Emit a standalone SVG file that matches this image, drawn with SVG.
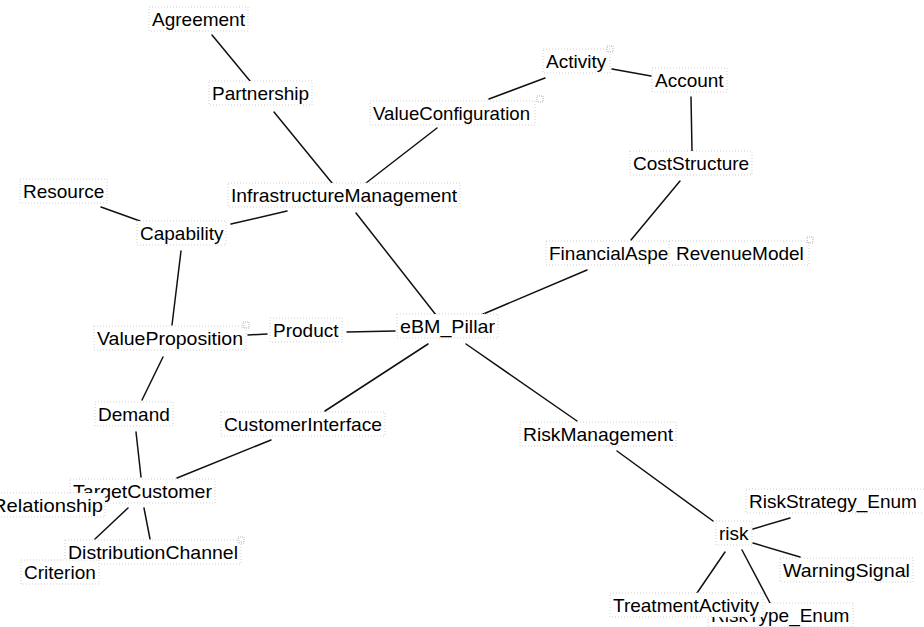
<svg xmlns="http://www.w3.org/2000/svg" width="924" height="627" viewBox="0 0 924 627">
<style>
  text { font-family: "Liberation Sans", Arial, sans-serif; font-size: 19px; fill: #000; }
  .box { fill: #fff; stroke: #cfcfcf; stroke-width: 1; stroke-dasharray: 1 2; }
  .mk { fill: none; stroke: #b5b5b5; stroke-width: 1; stroke-dasharray: 1 1; }
  #edges line { stroke: #111; stroke-width: 1.5; stroke-linecap: round; }
</style>
<rect width="924" height="627" fill="#fff"/>
<g id="edges">
  <line x1="212" y1="35" x2="250" y2="81"/>
  <line x1="274" y1="112" x2="332" y2="183"/>
  <line x1="437" y1="128" x2="366" y2="183"/>
  <line x1="101" y1="207" x2="140" y2="221"/>
  <line x1="231" y1="224" x2="287" y2="211"/>
  <line x1="356" y1="213" x2="436" y2="315"/>
  <line x1="181" y1="251" x2="172" y2="325"/>
  <line x1="489" y1="99" x2="545" y2="78"/>
  <line x1="612" y1="69" x2="651" y2="76"/>
  <line x1="691" y1="97" x2="692" y2="151"/>
  <line x1="680" y1="181" x2="631" y2="240"/>
  <line x1="587" y1="270" x2="481" y2="315"/>
  <line x1="248" y1="335" x2="267" y2="334"/>
  <line x1="347" y1="332" x2="395" y2="331"/>
  <line x1="163" y1="357" x2="142" y2="400"/>
  <line x1="428" y1="344" x2="325" y2="411"/>
  <line x1="136" y1="432" x2="141" y2="477"/>
  <line x1="271" y1="440" x2="177" y2="478"/>
  <line x1="128" y1="508" x2="95" y2="539"/>
  <line x1="144" y1="508" x2="150" y2="539"/>
  <line x1="466" y1="344" x2="577" y2="421"/>
  <line x1="617" y1="451" x2="713" y2="521"/>
  <line x1="753" y1="529" x2="790" y2="518"/>
  <line x1="753" y1="543" x2="800" y2="557"/>
  <line x1="725" y1="552" x2="697" y2="593"/>
  <line x1="742" y1="550" x2="770" y2="603"/>
</g>
<g id="Agreement"><rect class="box" x="149" y="7" width="99" height="24"/><text x="152" y="26">Agreement</text></g>
<g id="Partnership"><rect class="box" x="209" y="81" width="103" height="24"/><text x="212" y="100">Partnership</text></g>
<g id="ValueConfiguration"><rect class="box" x="370" y="101" width="165" height="24"/><text x="373" y="120" textLength="157" lengthAdjust="spacingAndGlyphs">ValueConfiguration</text><rect class="mk" x="537" y="96" width="6" height="6"/></g>
<g id="Activity"><rect class="box" x="543" y="49" width="67" height="24"/><text x="546" y="68">Activity</text><rect class="mk" x="607" y="46" width="6" height="6"/></g>
<g id="Account"><rect class="box" x="652" y="68" width="75" height="24"/><text x="655" y="87">Account</text></g>
<g id="CostStructure"><rect class="box" x="630" y="151" width="122" height="24"/><text x="633" y="170">CostStructure</text></g>
<g id="FinancialAspect"><rect class="box" x="546" y="241" width="140" height="24"/><text x="549" y="260">FinancialAspect</text></g>
<g id="RevenueModel"><rect class="box" x="669" y="241" width="140" height="24"/><text x="676" y="260">RevenueModel</text><rect class="mk" x="807" y="237" width="6" height="6"/></g>
<g id="InfrastructureManagement"><rect class="box" x="228" y="183" width="232" height="24"/><text x="231" y="202" textLength="226" lengthAdjust="spacingAndGlyphs">InfrastructureManagement</text></g>
<g id="Resource"><rect class="box" x="20" y="179" width="87" height="24"/><text x="23" y="198">Resource</text></g>
<g id="Capability"><rect class="box" x="137" y="221" width="89" height="24"/><text x="140" y="240">Capability</text></g>
<g id="ValueProposition"><rect class="box" x="94" y="326" width="152" height="24"/><text x="97" y="345" textLength="146" lengthAdjust="spacingAndGlyphs">ValueProposition</text><rect class="mk" x="243" y="322" width="6" height="6"/></g>
<g id="Product"><rect class="box" x="270" y="318" width="72" height="24"/><text x="273" y="337">Product</text></g>
<g id="eBM_Pillar"><rect class="box" x="397" y="314" width="101" height="24"/><text x="400" y="333" textLength="95" lengthAdjust="spacingAndGlyphs">eBM_Pillar</text></g>
<g id="Demand"><rect class="box" x="95" y="402" width="78" height="24"/><text x="98" y="421">Demand</text></g>
<g id="CustomerInterface"><rect class="box" x="221" y="412" width="164" height="24"/><text x="224" y="431" textLength="158" lengthAdjust="spacingAndGlyphs">CustomerInterface</text></g>
<g id="TargetCustomer"><rect class="box" x="70" y="479" width="145" height="24"/><text x="73" y="498" textLength="139" lengthAdjust="spacingAndGlyphs">TargetCustomer</text></g>
<g id="Relationship"><rect class="box" x="-11" y="493" width="116" height="24"/><text x="-8" y="512" textLength="111" lengthAdjust="spacingAndGlyphs">Relationship</text></g>
<g id="DistributionChannel"><rect class="box" x="65" y="540" width="176" height="24"/><text x="68" y="559" textLength="170" lengthAdjust="spacingAndGlyphs">DistributionChannel</text><rect class="mk" x="238" y="537" width="6" height="6"/></g>
<g id="Criterion"><rect class="box" x="21" y="560" width="78" height="24"/><text x="24" y="579">Criterion</text></g>
<g id="RiskManagement"><rect class="box" x="520" y="422" width="156" height="24"/><text x="523" y="441" textLength="150" lengthAdjust="spacingAndGlyphs">RiskManagement</text></g>
<g id="risk"><rect class="box" x="716" y="521" width="36" height="24"/><text x="719" y="540">risk</text></g>
<g id="RiskStrategy_Enum"><rect class="box" x="746" y="489" width="190" height="24"/><text x="749" y="508">RiskStrategy_Enum</text></g>
<g id="WarningSignal"><rect class="box" x="780" y="558" width="133" height="24"/><text x="783" y="577" textLength="127" lengthAdjust="spacingAndGlyphs">WarningSignal</text></g>
<g id="RiskType_Enum"><rect class="box" x="708" y="603" width="145" height="24"/><text x="711" y="622">RiskType_Enum</text></g>
<g id="TreatmentActivity"><rect class="box" x="610" y="593" width="153" height="24"/><text x="613" y="612">TreatmentActivity</text></g>
</svg>
